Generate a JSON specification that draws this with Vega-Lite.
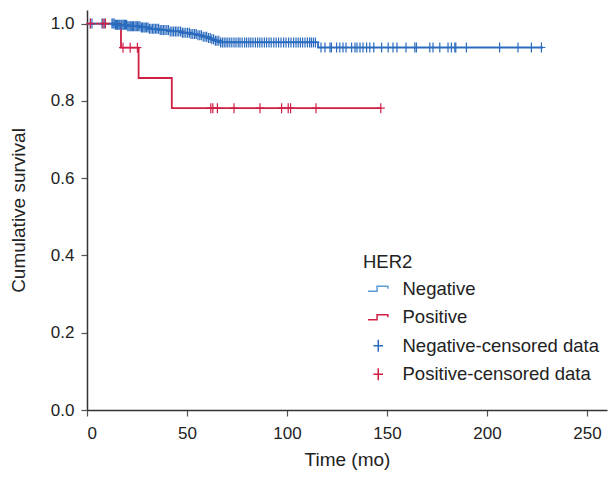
{
  "$schema": "https://vega.github.io/schema/vega-lite/v6.json",
  "width": 520,
  "height": 400,
  "autosize": {"type": "none"},
  "padding": {"left": 87, "top": 10, "right": 2, "bottom": 69},
  "background": "white",
  "config": {
    "view": {"stroke": null},
    "font": "Liberation Sans",
    "axis": {"grid": false, "domainColor": "#333333", "domainWidth": 1.5, "tickColor": "#555555", "tickWidth": 1.2, "tickSize": 6, "labelFontSize": 17, "labelColor": "#222222", "titleFontSize": 19, "titleFontWeight": "normal", "titleColor": "#222222"},
    "legend": {"titleFontSize": 18.5, "titleFontWeight": "normal", "titleColor": "#222222", "labelFontSize": 18.5, "labelColor": "#222222", "symbolSize": 144, "symbolStrokeWidth": 1.5, "symbolOffset": 6, "rowPadding": 9.5, "labelOffset": 15, "titlePadding": 8, "labelLimit": 300}
  },
  "datasets": {
    "km": [
      {"series": "Negative", "time": 0, "surv": 1.0},
      {"series": "Negative", "time": 14, "surv": 0.9966},
      {"series": "Negative", "time": 20, "surv": 0.9932},
      {"series": "Negative", "time": 27, "surv": 0.9898},
      {"series": "Negative", "time": 31, "surv": 0.9864},
      {"series": "Negative", "time": 36, "surv": 0.983},
      {"series": "Negative", "time": 41, "surv": 0.9796},
      {"series": "Negative", "time": 47, "surv": 0.9762},
      {"series": "Negative", "time": 52, "surv": 0.9728},
      {"series": "Negative", "time": 55, "surv": 0.9694},
      {"series": "Negative", "time": 58, "surv": 0.966},
      {"series": "Negative", "time": 60, "surv": 0.9625},
      {"series": "Negative", "time": 62, "surv": 0.959},
      {"series": "Negative", "time": 64, "surv": 0.9555},
      {"series": "Negative", "time": 66, "surv": 0.951},
      {"series": "Negative", "time": 115.5, "surv": 0.938},
      {"series": "Negative", "time": 228, "surv": 0.938},
      {"series": "Positive", "time": 0, "surv": 1.0},
      {"series": "Positive", "time": 17, "surv": 0.9375},
      {"series": "Positive", "time": 25.8, "surv": 0.859},
      {"series": "Positive", "time": 42.4, "surv": 0.781},
      {"series": "Positive", "time": 147, "surv": 0.781}
    ],
    "cens": [
      {"series": "Negative-censored data", "time": 1.7, "surv": 1.0},
      {"series": "Negative-censored data", "time": 2.5, "surv": 1.0},
      {"series": "Negative-censored data", "time": 7.5, "surv": 1.0},
      {"series": "Negative-censored data", "time": 8.6, "surv": 1.0},
      {"series": "Negative-censored data", "time": 12.5, "surv": 1.0},
      {"series": "Negative-censored data", "time": 13, "surv": 1.0},
      {"series": "Negative-censored data", "time": 13.6, "surv": 1.0},
      {"series": "Negative-censored data", "time": 14.2, "surv": 0.9966},
      {"series": "Negative-censored data", "time": 14.8, "surv": 0.9966},
      {"series": "Negative-censored data", "time": 15.3, "surv": 0.9966},
      {"series": "Negative-censored data", "time": 15.9, "surv": 0.9966},
      {"series": "Negative-censored data", "time": 16.4, "surv": 0.9966},
      {"series": "Negative-censored data", "time": 17, "surv": 0.9966},
      {"series": "Negative-censored data", "time": 17.5, "surv": 0.9966},
      {"series": "Negative-censored data", "time": 18.1, "surv": 0.9966},
      {"series": "Negative-censored data", "time": 18.7, "surv": 0.9966},
      {"series": "Negative-censored data", "time": 19.2, "surv": 0.9966},
      {"series": "Negative-censored data", "time": 19.8, "surv": 0.9966},
      {"series": "Negative-censored data", "time": 20.4, "surv": 0.9932},
      {"series": "Negative-censored data", "time": 21, "surv": 0.9932},
      {"series": "Negative-censored data", "time": 21.6, "surv": 0.9932},
      {"series": "Negative-censored data", "time": 22.1, "surv": 0.9932},
      {"series": "Negative-censored data", "time": 22.7, "surv": 0.9932},
      {"series": "Negative-censored data", "time": 23.3, "surv": 0.9932},
      {"series": "Negative-censored data", "time": 24, "surv": 0.9932},
      {"series": "Negative-censored data", "time": 24.6, "surv": 0.9932},
      {"series": "Negative-censored data", "time": 25.2, "surv": 0.9932},
      {"series": "Negative-censored data", "time": 25.9, "surv": 0.9932},
      {"series": "Negative-censored data", "time": 26.5, "surv": 0.9932},
      {"series": "Negative-censored data", "time": 27.2, "surv": 0.9898},
      {"series": "Negative-censored data", "time": 27.8, "surv": 0.9898},
      {"series": "Negative-censored data", "time": 28.5, "surv": 0.9898},
      {"series": "Negative-censored data", "time": 29.1, "surv": 0.9898},
      {"series": "Negative-censored data", "time": 29.8, "surv": 0.9898},
      {"series": "Negative-censored data", "time": 30.5, "surv": 0.9898},
      {"series": "Negative-censored data", "time": 31.2, "surv": 0.9864},
      {"series": "Negative-censored data", "time": 32, "surv": 0.9864},
      {"series": "Negative-censored data", "time": 32.8, "surv": 0.9864},
      {"series": "Negative-censored data", "time": 33.5, "surv": 0.9864},
      {"series": "Negative-censored data", "time": 34.3, "surv": 0.9864},
      {"series": "Negative-censored data", "time": 35, "surv": 0.9864},
      {"series": "Negative-censored data", "time": 35.8, "surv": 0.9864},
      {"series": "Negative-censored data", "time": 36.6, "surv": 0.983},
      {"series": "Negative-censored data", "time": 37.4, "surv": 0.983},
      {"series": "Negative-censored data", "time": 38.2, "surv": 0.983},
      {"series": "Negative-censored data", "time": 39, "surv": 0.983},
      {"series": "Negative-censored data", "time": 39.9, "surv": 0.983},
      {"series": "Negative-censored data", "time": 40.7, "surv": 0.983},
      {"series": "Negative-censored data", "time": 41.6, "surv": 0.9796},
      {"series": "Negative-censored data", "time": 42.5, "surv": 0.9796},
      {"series": "Negative-censored data", "time": 43.3, "surv": 0.9796},
      {"series": "Negative-censored data", "time": 44.2, "surv": 0.9796},
      {"series": "Negative-censored data", "time": 45, "surv": 0.9796},
      {"series": "Negative-censored data", "time": 45.9, "surv": 0.9796},
      {"series": "Negative-censored data", "time": 46.8, "surv": 0.9796},
      {"series": "Negative-censored data", "time": 47.7, "surv": 0.9762},
      {"series": "Negative-censored data", "time": 48.5, "surv": 0.9762},
      {"series": "Negative-censored data", "time": 49.4, "surv": 0.9762},
      {"series": "Negative-censored data", "time": 50.3, "surv": 0.9762},
      {"series": "Negative-censored data", "time": 51.2, "surv": 0.9762},
      {"series": "Negative-censored data", "time": 52, "surv": 0.9728},
      {"series": "Negative-censored data", "time": 52.9, "surv": 0.9728},
      {"series": "Negative-censored data", "time": 53.8, "surv": 0.9728},
      {"series": "Negative-censored data", "time": 54.6, "surv": 0.9728},
      {"series": "Negative-censored data", "time": 55.5, "surv": 0.9694},
      {"series": "Negative-censored data", "time": 56.4, "surv": 0.9694},
      {"series": "Negative-censored data", "time": 57.2, "surv": 0.9694},
      {"series": "Negative-censored data", "time": 58.1, "surv": 0.966},
      {"series": "Negative-censored data", "time": 59, "surv": 0.966},
      {"series": "Negative-censored data", "time": 59.8, "surv": 0.966},
      {"series": "Negative-censored data", "time": 60.7, "surv": 0.9625},
      {"series": "Negative-censored data", "time": 61.6, "surv": 0.9625},
      {"series": "Negative-censored data", "time": 62.4, "surv": 0.959},
      {"series": "Negative-censored data", "time": 63.3, "surv": 0.959},
      {"series": "Negative-censored data", "time": 64.2, "surv": 0.9555},
      {"series": "Negative-censored data", "time": 65, "surv": 0.9555},
      {"series": "Negative-censored data", "time": 65.9, "surv": 0.9555},
      {"series": "Negative-censored data", "time": 66.8, "surv": 0.951},
      {"series": "Negative-censored data", "time": 67.7, "surv": 0.951},
      {"series": "Negative-censored data", "time": 68.6, "surv": 0.951},
      {"series": "Negative-censored data", "time": 69.5, "surv": 0.951},
      {"series": "Negative-censored data", "time": 70.4, "surv": 0.951},
      {"series": "Negative-censored data", "time": 71.4, "surv": 0.951},
      {"series": "Negative-censored data", "time": 72.4, "surv": 0.951},
      {"series": "Negative-censored data", "time": 73.5, "surv": 0.951},
      {"series": "Negative-censored data", "time": 74.5, "surv": 0.951},
      {"series": "Negative-censored data", "time": 75.6, "surv": 0.951},
      {"series": "Negative-censored data", "time": 76.5, "surv": 0.951},
      {"series": "Negative-censored data", "time": 77.6, "surv": 0.951},
      {"series": "Negative-censored data", "time": 78.8, "surv": 0.951},
      {"series": "Negative-censored data", "time": 79.8, "surv": 0.951},
      {"series": "Negative-censored data", "time": 80.9, "surv": 0.951},
      {"series": "Negative-censored data", "time": 81.9, "surv": 0.951},
      {"series": "Negative-censored data", "time": 83, "surv": 0.951},
      {"series": "Negative-censored data", "time": 84.2, "surv": 0.951},
      {"series": "Negative-censored data", "time": 85.3, "surv": 0.951},
      {"series": "Negative-censored data", "time": 86.4, "surv": 0.951},
      {"series": "Negative-censored data", "time": 87.5, "surv": 0.951},
      {"series": "Negative-censored data", "time": 88.7, "surv": 0.951},
      {"series": "Negative-censored data", "time": 89.8, "surv": 0.951},
      {"series": "Negative-censored data", "time": 91, "surv": 0.951},
      {"series": "Negative-censored data", "time": 92.1, "surv": 0.951},
      {"series": "Negative-censored data", "time": 93.4, "surv": 0.951},
      {"series": "Negative-censored data", "time": 94.6, "surv": 0.951},
      {"series": "Negative-censored data", "time": 95.8, "surv": 0.951},
      {"series": "Negative-censored data", "time": 97, "surv": 0.951},
      {"series": "Negative-censored data", "time": 98.3, "surv": 0.951},
      {"series": "Negative-censored data", "time": 99.5, "surv": 0.951},
      {"series": "Negative-censored data", "time": 100.8, "surv": 0.951},
      {"series": "Negative-censored data", "time": 102, "surv": 0.951},
      {"series": "Negative-censored data", "time": 103.3, "surv": 0.951},
      {"series": "Negative-censored data", "time": 104.5, "surv": 0.951},
      {"series": "Negative-censored data", "time": 105.6, "surv": 0.951},
      {"series": "Negative-censored data", "time": 106.7, "surv": 0.951},
      {"series": "Negative-censored data", "time": 107.8, "surv": 0.951},
      {"series": "Negative-censored data", "time": 109, "surv": 0.951},
      {"series": "Negative-censored data", "time": 110.2, "surv": 0.951},
      {"series": "Negative-censored data", "time": 111.3, "surv": 0.951},
      {"series": "Negative-censored data", "time": 112.2, "surv": 0.951},
      {"series": "Negative-censored data", "time": 113.2, "surv": 0.951},
      {"series": "Negative-censored data", "time": 114.2, "surv": 0.951},
      {"series": "Negative-censored data", "time": 117, "surv": 0.938},
      {"series": "Negative-censored data", "time": 119, "surv": 0.938},
      {"series": "Negative-censored data", "time": 121.5, "surv": 0.938},
      {"series": "Negative-censored data", "time": 122.2, "surv": 0.938},
      {"series": "Negative-censored data", "time": 124.8, "surv": 0.938},
      {"series": "Negative-censored data", "time": 126.4, "surv": 0.938},
      {"series": "Negative-censored data", "time": 128, "surv": 0.938},
      {"series": "Negative-censored data", "time": 129.5, "surv": 0.938},
      {"series": "Negative-censored data", "time": 132.3, "surv": 0.938},
      {"series": "Negative-censored data", "time": 134, "surv": 0.938},
      {"series": "Negative-censored data", "time": 135, "surv": 0.938},
      {"series": "Negative-censored data", "time": 136.5, "surv": 0.938},
      {"series": "Negative-censored data", "time": 138, "surv": 0.938},
      {"series": "Negative-censored data", "time": 139.8, "surv": 0.938},
      {"series": "Negative-censored data", "time": 141.4, "surv": 0.938},
      {"series": "Negative-censored data", "time": 143.4, "surv": 0.938},
      {"series": "Negative-censored data", "time": 147.3, "surv": 0.938},
      {"series": "Negative-censored data", "time": 150.6, "surv": 0.938},
      {"series": "Negative-censored data", "time": 153, "surv": 0.938},
      {"series": "Negative-censored data", "time": 155, "surv": 0.938},
      {"series": "Negative-censored data", "time": 159.5, "surv": 0.938},
      {"series": "Negative-censored data", "time": 163.9, "surv": 0.938},
      {"series": "Negative-censored data", "time": 164.7, "surv": 0.938},
      {"series": "Negative-censored data", "time": 171.4, "surv": 0.938},
      {"series": "Negative-censored data", "time": 173, "surv": 0.938},
      {"series": "Negative-censored data", "time": 176.4, "surv": 0.938},
      {"series": "Negative-censored data", "time": 180.5, "surv": 0.938},
      {"series": "Negative-censored data", "time": 182.2, "surv": 0.938},
      {"series": "Negative-censored data", "time": 183.9, "surv": 0.938},
      {"series": "Negative-censored data", "time": 184.4, "surv": 0.938},
      {"series": "Negative-censored data", "time": 189.7, "surv": 0.938},
      {"series": "Negative-censored data", "time": 206.3, "surv": 0.938},
      {"series": "Negative-censored data", "time": 215.5, "surv": 0.938},
      {"series": "Negative-censored data", "time": 222.2, "surv": 0.938},
      {"series": "Negative-censored data", "time": 227.2, "surv": 0.938},
      {"series": "Positive-censored data", "time": 1.7, "surv": 1.0},
      {"series": "Positive-censored data", "time": 8, "surv": 1.0},
      {"series": "Positive-censored data", "time": 9.2, "surv": 1.0},
      {"series": "Positive-censored data", "time": 18, "surv": 0.9375},
      {"series": "Positive-censored data", "time": 21.6, "surv": 0.9375},
      {"series": "Positive-censored data", "time": 25.2, "surv": 0.9375},
      {"series": "Positive-censored data", "time": 61.9, "surv": 0.781},
      {"series": "Positive-censored data", "time": 62.9, "surv": 0.781},
      {"series": "Positive-censored data", "time": 65.2, "surv": 0.781},
      {"series": "Positive-censored data", "time": 73.5, "surv": 0.781},
      {"series": "Positive-censored data", "time": 86.5, "surv": 0.781},
      {"series": "Positive-censored data", "time": 97.3, "surv": 0.781},
      {"series": "Positive-censored data", "time": 100.6, "surv": 0.781},
      {"series": "Positive-censored data", "time": 101.8, "surv": 0.781},
      {"series": "Positive-censored data", "time": 114.5, "surv": 0.781},
      {"series": "Positive-censored data", "time": 146.9, "surv": 0.781}
    ]
  },
  "layer": [
    {
      "data": {"name": "km"},
      "mark": {"type": "line", "interpolate": "step-after", "strokeWidth": 1.8},
      "encoding": {
        "x": {"field": "time", "type": "quantitative", "scale": {"domain": [0, 260], "nice": false}, "axis": {"values": [0, 50, 100, 150, 200, 250], "title": "Time (mo)", "labelPadding": 9, "titlePadding": 9}},
        "y": {"field": "surv", "type": "quantitative", "scale": {"domain": [0, 1.035], "nice": false}, "axis": {"values": [0, 0.2, 0.4, 0.6, 0.8, 1.0], "format": ".1f", "title": "Cumulative survival", "labelPadding": 7, "titlePadding": 22}},
        "stroke": {"field": "series", "type": "nominal", "scale": {"domain": ["Negative", "Positive"], "range": ["#2b6cbf", "#cf1f45"]}, "legend": null}
      }
    },
    {
      "data": {"name": "cens"},
      "mark": {"type": "point", "filled": false, "strokeWidth": 1.2, "size": 100, "opacity": 1},
      "encoding": {
        "x": {"field": "time", "type": "quantitative"},
        "y": {"field": "surv", "type": "quantitative"},
        "color": {"field": "series", "type": "nominal", "title": "HER2", "scale": {"domain": ["Negative", "Positive", "Negative-censored data", "Positive-censored data"], "range": ["#5a9ad8", "#cf1f45", "#2b6cbf", "#cf1f45"]}, "legend": {"orient": "none", "legendX": 276, "legendY": 243}},
        "shape": {"field": "series", "type": "nominal", "title": "HER2", "scale": {"domain": ["Negative", "Positive", "Negative-censored data", "Positive-censored data"], "range": ["M-1.7,0.4H-0.2V-0.4H1.6V0", "M-1.7,0.4H-0.2V-0.4H1.6V0", "M-0.8,0H0.8M0,-1V1", "M-0.8,0H0.8M0,-1V1"]}, "legend": {"orient": "none", "legendX": 276, "legendY": 243}}
      }
    }
  ]
}
